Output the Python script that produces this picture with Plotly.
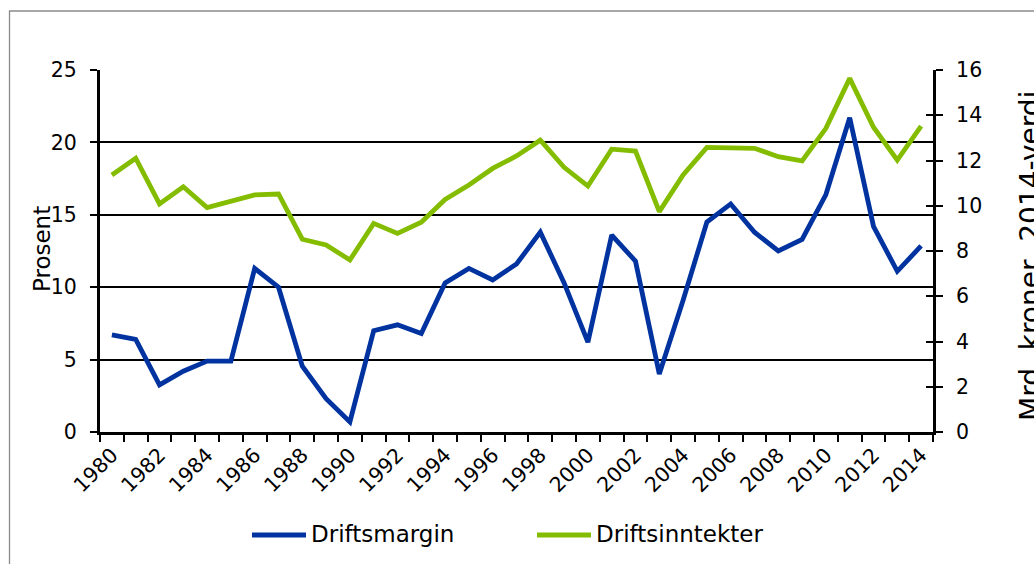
import plotly.graph_objects as go

years = [str(y) for y in range(1980, 2015)]
tick_labels = [y if int(y) % 2 == 0 else "" for y in years]

driftsmargin = [6.7, 6.4, 3.25, 4.2, 4.9, 4.9, 11.3, 10.0, 4.55, 2.3,
                0.7, 7.0, 7.4, 6.8, 10.3, 11.3, 10.5, 11.6, 13.8, 10.3,
                6.2, 13.6, 11.8, 4.0, 9.1, 14.5, 15.75, 13.8, 12.5, 13.3,
                16.4, 21.7, 14.2, 11.1, 12.85]

driftsinntekter = [11.36, 12.1, 10.08, 10.84, 9.92, 10.21, 10.48, 10.52, 8.52, 8.27,
                   7.6, 9.22, 8.78, 9.27, 10.28, 10.92, 11.65, 12.2, 12.9, 11.7,
                   10.87, 12.5, 12.42, 9.74, 11.36, 12.58, 12.57, 12.54, 12.17, 11.98,
                   13.42, 15.63, 13.47, 12.02, 13.52]

name_left = "Driftsmargin"
name_right = "Driftsinntekter"
title_left = "Prosent"
title_right = "Mrd. kroner, 2014-verdi"

BLUE = "#0033a0"
GREEN = "#84bd00"
FONT = "DejaVu Sans"
TICK_SIZE = 20.5
LINE_W = 4.8

# plot-area geometry in pixels (for converting layout positions to paper coords)
W, H = 1034, 564
ML, MR, MT, MB = 100, 101, 70, 132
PW, PH = W - ML - MR, H - MT - MB


def px_x(px):
    return (px - ML) / PW


def px_y(py):
    return (H - MB - py) / PH


fig = go.Figure()
fig.add_trace(go.Scatter(x=years, y=driftsmargin, name=name_left, mode="lines",
                         line=dict(color=BLUE, width=LINE_W), yaxis="y"))
fig.add_trace(go.Scatter(x=years, y=driftsinntekter, name=name_right, mode="lines",
                         line=dict(color=GREEN, width=LINE_W), yaxis="y2"))
# empty trace so that the inside-tick overlay axis is drawn
fig.add_trace(go.Scatter(x=[years[0]], y=[None], yaxis="y3", showlegend=False,
                         hoverinfo="skip", mode="lines"))

fig.update_layout(
    width=W, height=H,
    margin=dict(l=ML, r=MR, t=MT, b=MB),
    paper_bgcolor="white", plot_bgcolor="white",
    font=dict(family=FONT, size=20, color="black"),
    showlegend=False,
    xaxis=dict(type="category", tickmode="array", tickvals=years, ticktext=tick_labels,
               tickson="boundaries", ticks="outside", ticklen=7, tickwidth=2, tickcolor="black",
               showline=True, linewidth=3, linecolor="black", showgrid=False,
               tickangle=-45, tickfont=dict(size=TICK_SIZE), range=[-0.5, 34.5]),
    yaxis=dict(range=[0, 25], dtick=5, tick0=0, showgrid=True, gridcolor="black", gridwidth=2,
               showline=True, linewidth=3, linecolor="black", ticks="outside", ticklen=7,
               tickwidth=2, tickcolor="black", zeroline=False, tickfont=dict(size=TICK_SIZE),
               ticklabelstandoff=9),
    yaxis2=dict(range=[0, 16], dtick=2, tick0=0, overlaying="y", side="right", showgrid=False,
                showline=True, linewidth=3, linecolor="black", ticks="outside", ticklen=7,
                tickwidth=2, tickcolor="black", zeroline=False, tickfont=dict(size=TICK_SIZE),
                ticklabelstandoff=9),
    yaxis3=dict(range=[0, 16], dtick=2, tick0=0, overlaying="y", side="right", showgrid=False,
                showline=False, ticks="inside", ticklen=7, tickwidth=2, tickcolor="black",
                showticklabels=False, zeroline=False),
)

# axis titles
fig.add_annotation(text=title_left, xref="paper", yref="paper",
                   x=px_x(42), y=px_y(249), xanchor="center", yanchor="middle",
                   textangle=-90, showarrow=False, font=dict(size=23, color="black"))
fig.add_annotation(text=title_right, xref="paper", yref="paper",
                   x=px_x(1030), y=px_y(256), xanchor="center", yanchor="middle",
                   textangle=-90, showarrow=False, font=dict(size=28, color="black"))

# legend (line keys longer than Plotly's built-in legend allows)
legend_items = [(name_left, BLUE, 252), (name_right, GREEN, 537)]
for label, color, x0 in legend_items:
    fig.add_shape(type="line", xref="paper", yref="paper",
                  x0=px_x(x0), x1=px_x(x0 + 54), y0=px_y(535), y1=px_y(535),
                  line=dict(color=color, width=LINE_W))
    fig.add_annotation(text=label, xref="paper", yref="paper",
                       x=px_x(x0 + 57), y=px_y(534), xanchor="left", yanchor="middle",
                       showarrow=False, font=dict(size=23, color="black"))

# chart-area border (continues beyond the visible frame on right and bottom)
fig.add_shape(type="rect", xref="paper", yref="paper",
              x0=px_x(9.5), x1=1.5, y0=-1.0, y1=px_y(11),
              line=dict(color="#8a8a8a", width=1.3), fillcolor="rgba(0,0,0,0)", layer="below")

fig.write_html("out.html", config={"displayModeBar": False},
               post_script="document.body.style.margin='0px';")
